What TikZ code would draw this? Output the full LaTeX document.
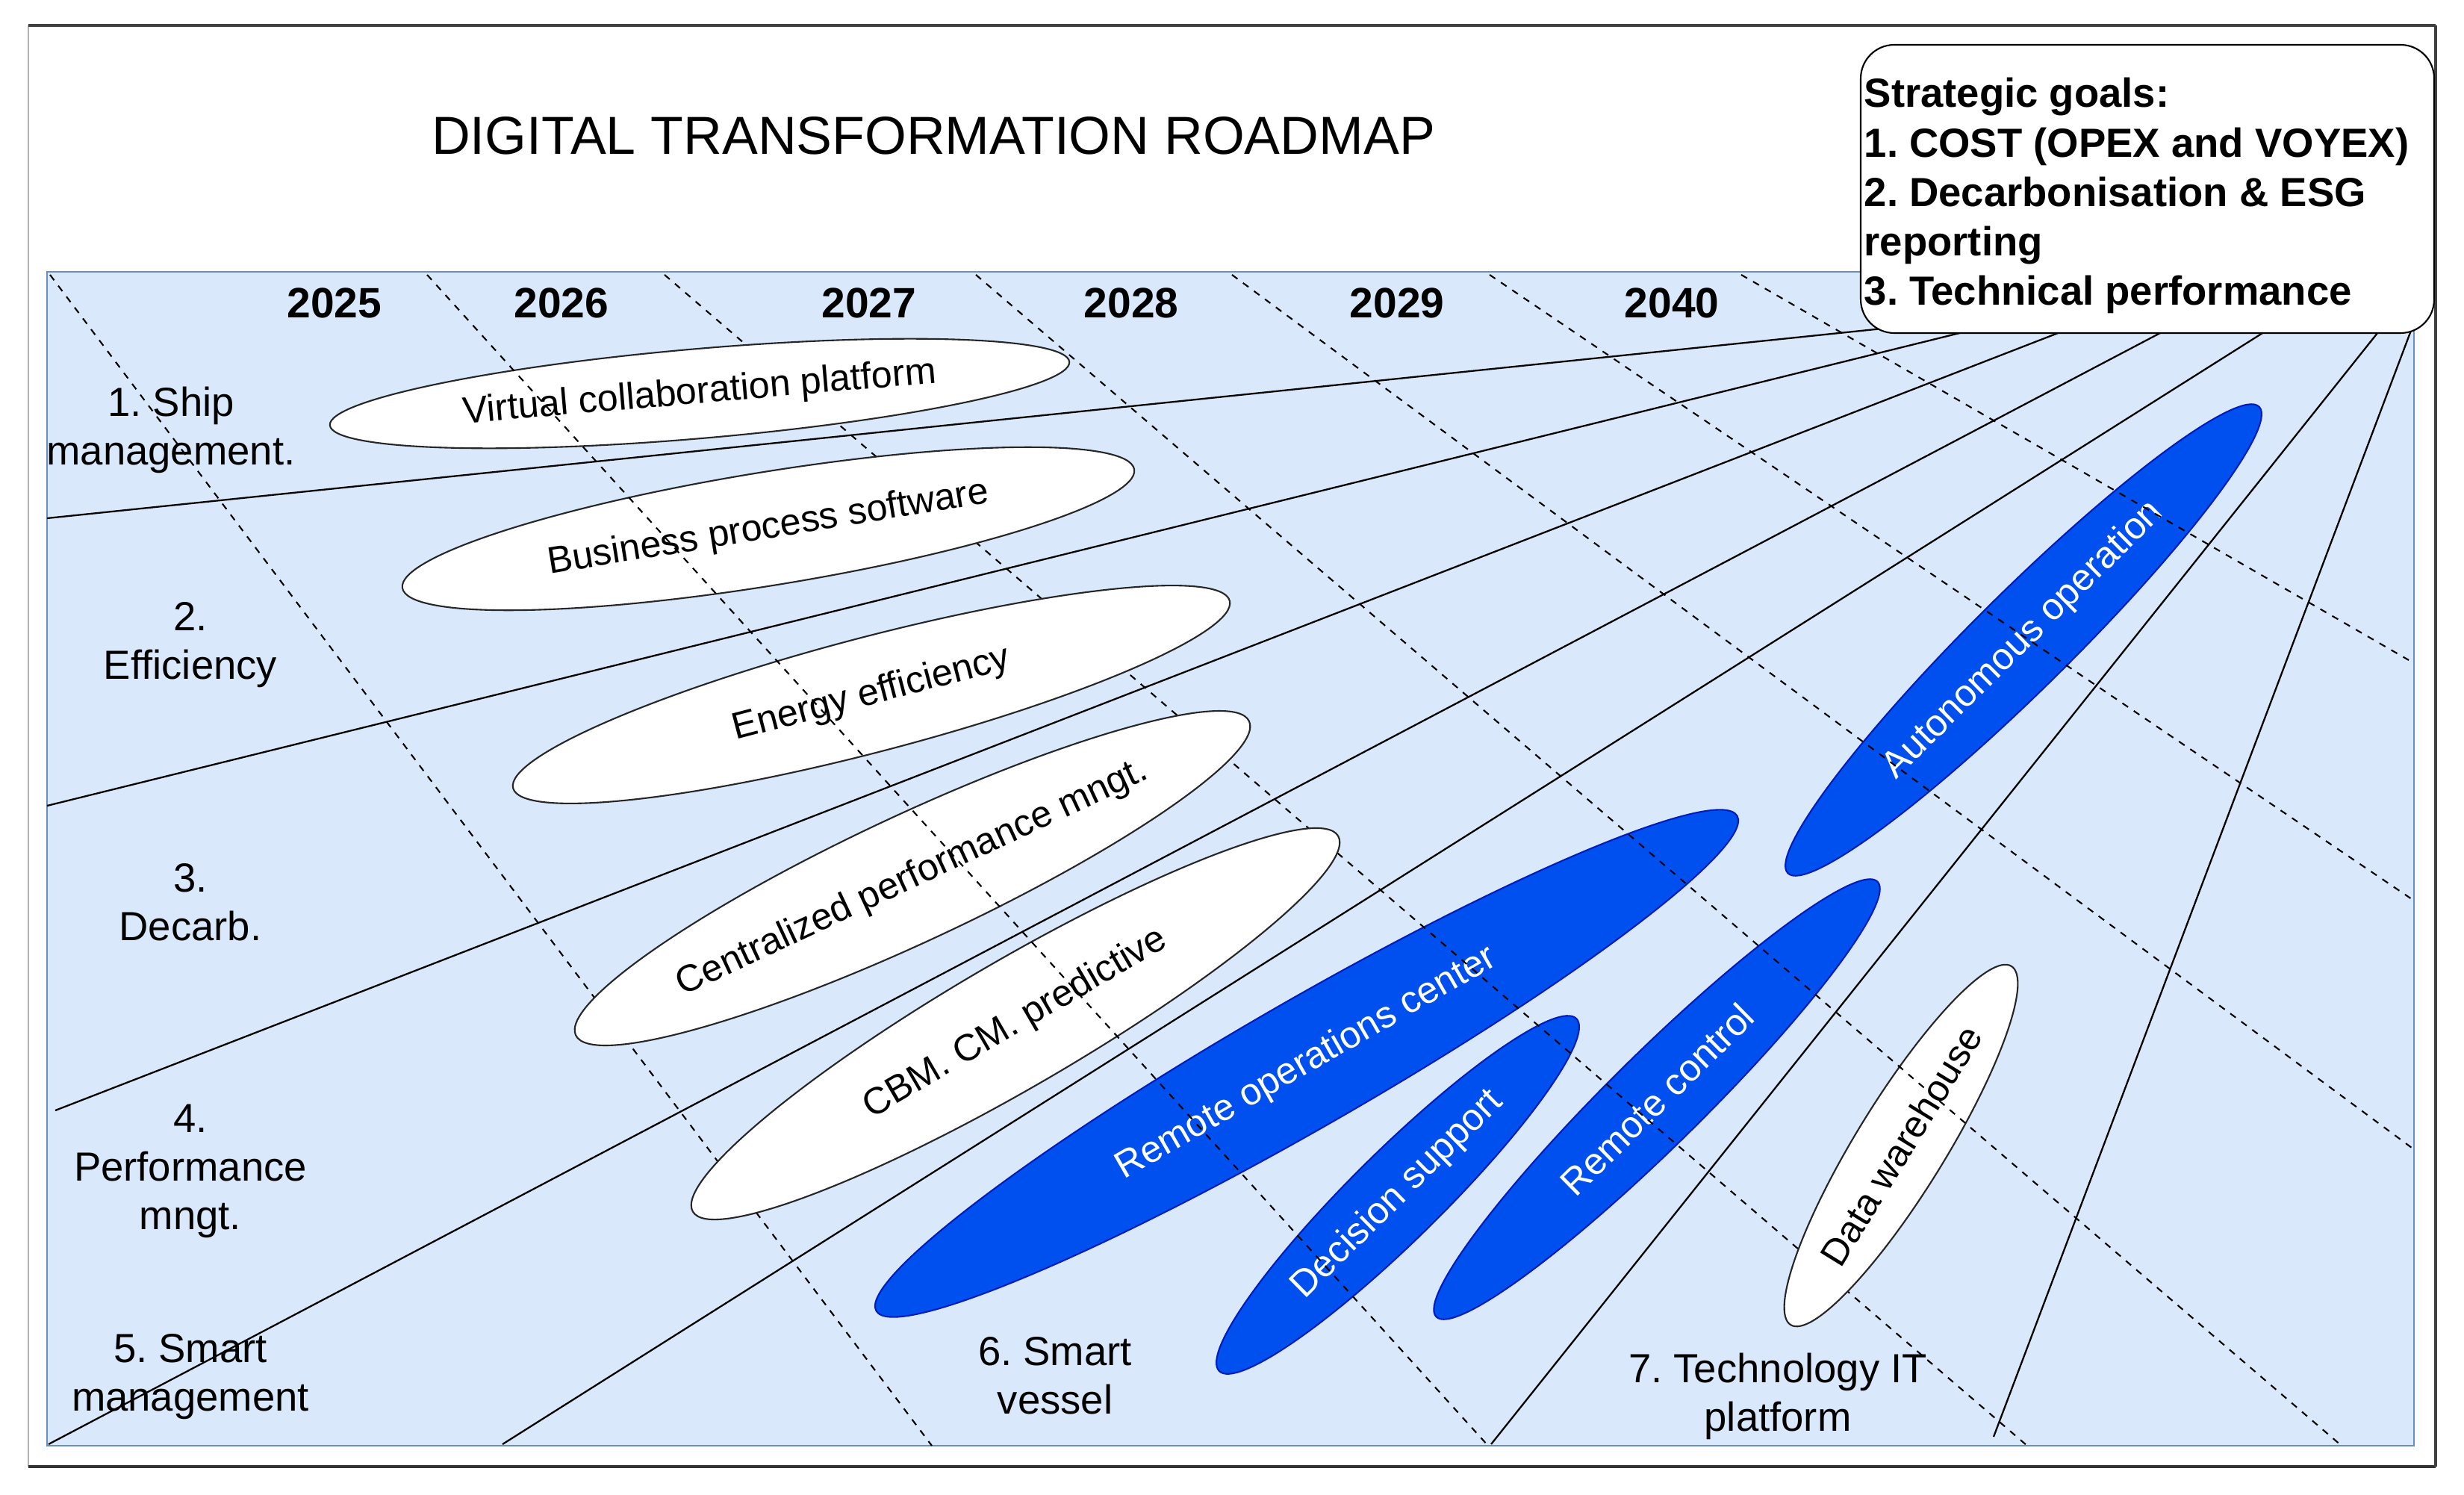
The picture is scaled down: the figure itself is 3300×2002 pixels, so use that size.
\documentclass[tikz,border=0pt]{standalone}
\usepackage{fontspec}
\setmainfont{Liberation Sans}
\usetikzlibrary{shapes.geometric}
\definecolor{bgblue}{HTML}{DAE8FC}
\definecolor{bgborder}{HTML}{6C8EBF}
\definecolor{fillblue}{HTML}{0050EF}
\definecolor{edgeblue}{HTML}{001DBC}
\frenchspacing
\begin{document}
\begin{tikzpicture}[x=0.1mm,y=-0.1mm,
  lane/.style={line width=0.65pt, black},
  yearline/.style={line width=0.6pt, black, dash pattern=on 2.6pt off 2.6pt},
  whiteell/.style={ellipse, draw=black!85, fill=white, line width=0.6pt, inner sep=0pt, font=\fontsize{14.3}{17}\selectfont},
  blueell/.style={ellipse, draw=edgeblue, fill=fillblue, text=white, line width=0.6pt, inner sep=0pt, font=\fontsize{14.3}{17}\selectfont},
  rowlabel/.style={align=center, font=\fontsize{15.5}{18.5}\selectfont, inner sep=0pt},
  yearlabel/.style={font=\bfseries\fontsize{16.2}{19}\selectfont, inner sep=0pt},
]
\useasboundingbox (0,0) rectangle (3300,2002);
\fill[white] (0,0) rectangle (3300,2002);
% outer frame
\draw[black!30, line width=0.6pt] (38,34) -- (38,1964);
\draw[black!75, line width=0.9pt] (38,34) -- (3262,34);
\draw[black!80, line width=1.4pt] (38,1964) -- (3262,1964);
\draw[black!75, line width=1.2pt] (3262,34) -- (3262,1964);
% blue area
\draw[fill=bgblue, draw=bgborder, line width=0.6pt] (63,364) rectangle (3233,1936);
% fan lines
\draw[lane] (63,694) -- (2560,436);
\draw[lane] (63,1079) -- (2665,436);
\draw[lane] (74,1487) -- (2782,436);
\draw[lane] (65,1934) -- (2912,436);
\draw[lane] (673,1934) -- (3046,436);
\draw[lane] (1997,1934) -- (3192,436);
\draw[lane] (2670,1924) -- (3230,440);
% blue ellipses
\node[blueell, minimum width=133mm, minimum height=17mm, rotate=29.9] (e6) at (1750,1424) {Remote operations center};
\node[blueell, minimum width=67.2mm, minimum height=12mm, rotate=44.6] (e7) at (1872,1600) {Decision support};
\node[blueell, minimum width=83mm, minimum height=12.4mm, rotate=44.6] (e8) at (2219,1472) {Remote control};
\node[blueell, minimum width=88.8mm, minimum height=13mm, rotate=44.7] (e9) at (2710,857) {Autonomous operation};
% dashed year lines behind white ellipses
\draw[yearline] (67,368) -- (1248,1936);
\draw[yearline] (890,368) -- (2715,1936);
% white ellipses
\node[whiteell, minimum width=99.4mm, minimum height=12mm, rotate=4.9] (e1) at (937,527) {Virtual collaboration platform};
\node[whiteell, minimum width=99.3mm, minimum height=15.2mm, rotate=9.2] (e2) at (1029,708) {Business process software};
\node[whiteell, minimum width=99.2mm, minimum height=15.4mm, rotate=14.65] (e3) at (1167,930) {Energy efficiency};
\node[whiteell, minimum width=99.5mm, minimum height=17mm, rotate=25] (e4) at (1222,1176) {Centralized performance mngt.};
\node[whiteell, minimum width=100mm, minimum height=17mm, rotate=30.2] (e5) at (1360,1371) {CBM. CM. predictive};
\node[whiteell, minimum width=56.4mm, minimum height=12mm, rotate=58.4] (e10) at (2546,1534) {Data warehouse};
% dashed year lines on top
\draw[yearline] (572,368) -- (1993,1936);
\draw[yearline] (1307,368) -- (3136,1936);
\draw[yearline] (1650,368) -- (3234,1540);
\draw[yearline] (1995,368) -- (3230,1204);
\draw[yearline] (2332,368) -- (3226,884);
% title
\node[font=\fontsize{20.4}{24}\selectfont, inner sep=0pt] (title) at (1250,182) {DIGITAL TRANSFORMATION ROADMAP};
% years
\node[yearlabel] (y2025) at (448,406) {2025};
\node[yearlabel] (y2026) at (752,406) {2026};
\node[yearlabel] (y2027) at (1164,406) {2027};
\node[yearlabel] (y2028) at (1515,406) {2028};
\node[yearlabel] (y2029) at (1871,406) {2029};
\node[yearlabel] (y2040) at (2239,406) {2040};
% row labels
\node[rowlabel] (r1) at (229,576) {1. Ship\\management.};
\node[rowlabel] (r2) at (255,864) {2.\\Efficiency};
\node[rowlabel] (r3) at (255,1208) {3.\\Decarb.};
\node[rowlabel] (r4) at (255,1568) {4.\\Performance\\mngt.};
\node[rowlabel] (r5) at (255,1844) {5. Smart\\management};
\node[rowlabel] (r6) at (1413,1842) {6. Smart\\vessel};
\node[rowlabel] (r7) at (2381,1870) {7. Technology IT\\platform};
% strategic goals box
\node[draw=black, fill=white, rounded corners=12.8pt, line width=0.6pt, minimum width=76.8mm, minimum height=38.6mm, inner sep=0pt] (goals) at (2876,253) {};
\node[anchor=west, align=left, inner sep=0pt, font=\bfseries\fontsize{15.5}{18.8}\selectfont] (goalstext) at (2496,262) {Strategic goals:\\1. COST (OPEX and VOYEX)\\2. Decarbonisation \& ESG\\reporting\\3. Technical performance};
\end{tikzpicture}
\end{document}
